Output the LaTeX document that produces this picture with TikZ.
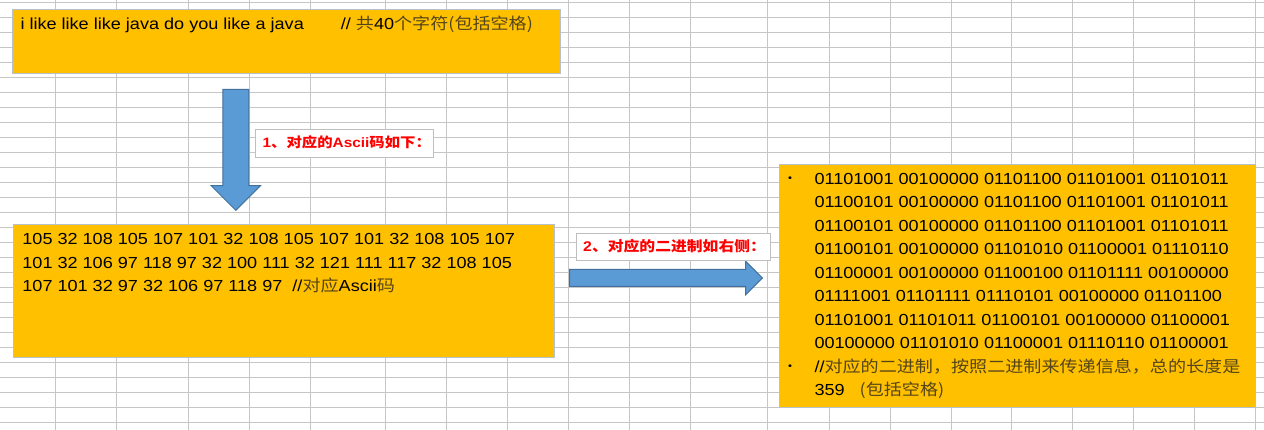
\documentclass[tikz,border=0pt]{standalone}
\usepackage{fontspec}
\setmainfont{Liberation Sans}[FakeStretch=1.13]
\newfontfamily\cjk{Noto Sans CJK SC}[FakeStretch=1.13]
\usetikzlibrary{shapes.arrows}
\definecolor{cellgold}{HTML}{FFC000}
\definecolor{gridgray}{HTML}{C6C6C6}
\definecolor{celledge}{HTML}{B8C0CC}
\definecolor{tagedge}{HTML}{BFBFBF}
\definecolor{arrowblue}{HTML}{5B9BD5}
\definecolor{arrowedge}{HTML}{41719C}
\definecolor{cjkink}{HTML}{54441A}
\newcommand{\zh}[1]{{\cjk\color{cjkink}#1}}
\newcommand{\zhb}[1]{{\cjk #1}}
\begin{document}
\begin{tikzpicture}[x=1pt, y=-1pt,
  cell/.style={draw=celledge, line width=1pt, fill=cellgold, anchor=north west, inner sep=0},
  tag/.style={draw=tagedge, line width=1pt, fill=white, anchor=north west, inner sep=0},
  rowtext/.style={anchor=base west, inner sep=0, font=\fontsize{16}{16}\selectfont},
  tagtext/.style={anchor=base west, inner sep=0, text=red, font=\bfseries\fontsize{13.6}{13.6}\selectfont},
  bulletmark/.style={inner sep=0, font=\fontsize{10}{10}\selectfont},
  blockarrow/.style={single arrow, draw=arrowedge, fill=arrowblue, line width=1pt, anchor=tail, minimum width=0pt, minimum height=0pt}]
\useasboundingbox (0,0) rectangle (1264,430);
% sheet grid
\foreach \gx in {55,116,188,249,310,385,446,507,568,629,690,767,829,890,951,1011,1072,1133,1194,1255}
  \draw[gridgray, line width=1pt] (\gx,0) -- (\gx,430);
\foreach \k in {0,...,28}
  \draw[gridgray, line width=1pt] (0,2.3+15*\k) -- (1264,2.3+15*\k);

\node[cell, minimum width=548pt, minimum height=63.5pt] (sentence) at (12.3,9.3) {};
\node[rowtext] (sentencetext) at (20.3,29.3) {i like like like java do you like a java\hspace{37pt}// \zh{共}40\zh{个字符(包括空格)}};

\node[blockarrow, rotate=-90, inner xsep=53.4pt, inner ysep=12.5pt, single arrow head extend=11.65pt] (down) at (235.8,89) {};
\node[tag, minimum width=178pt, minimum height=28pt] (tagone) at (255,129.3) {};
\node[tagtext] (tagonetext) at (262.5,147.3) {1\zhb{、对应的}Ascii\zhb{码如下：}};

\node[cell, minimum width=541pt, minimum height=132.7pt] (ascii) at (13.4,224.3) {};
\node[rowtext] (ascii1) at (22.2,245) {105 32 108 105 107 101 32 108 105 107 101 32 108 105 107};
\node[rowtext] (ascii2) at (22.2,268.3) {101 32 106 97 118 97 32 100 111 32 121 111 117 32 108 105};
\node[rowtext] (ascii3) at (22.2,291.7) {107 101 32 97 32 106 97 118 97\ \ //\zh{对应}Ascii\zh{码}};

\node[blockarrow, inner xsep=91.7pt, inner ysep=8pt, single arrow head extend=8.3pt] (across) at (569,278) {};
\node[tag, minimum width=194.3pt, minimum height=27.3pt] (tagtwo) at (575.7,232.7) {};
\node[tagtext, font=\bfseries\fontsize{14}{14}\selectfont] (tagtwotext) at (583,251.7) {2\zhb{、对应的二进制如右侧：}};

\node[cell, minimum width=476pt, minimum height=242.5pt] (binary) at (779.1,164.3) {};
\node[bulletmark] (dotone) at (790,179) {•};
\foreach \bits [count=\i] in {01101001 00100000 01101100 01101001 01101011,
  01100101 00100000 01101100 01101001 01101011,
  01100101 00100000 01101100 01101001 01101011,
  01100101 00100000 01101010 01100001 01110110,
  01100001 00100000 01100100 01101111 00100000,
  01111001 01101111 01110101 00100000 01101100,
  01101001 01101011 01100101 00100000 01100001,
  00100000 01101010 01100001 01110110 01100001}
  \node[rowtext] (bin\i) at (814.3,160.8+23.5*\i) {\bits};
\node[bulletmark] (dottwo) at (790,367.3) {•};
\node[rowtext] (note) at (814.3,372.3) {//\zh{对应的二进制，按照二进制来传递信息，总的长度是}};
\node[rowtext] (notetail) at (814.3,395.8) {359\hspace{15pt}\zh{(包括空格)}};
\end{tikzpicture}
\end{document}
